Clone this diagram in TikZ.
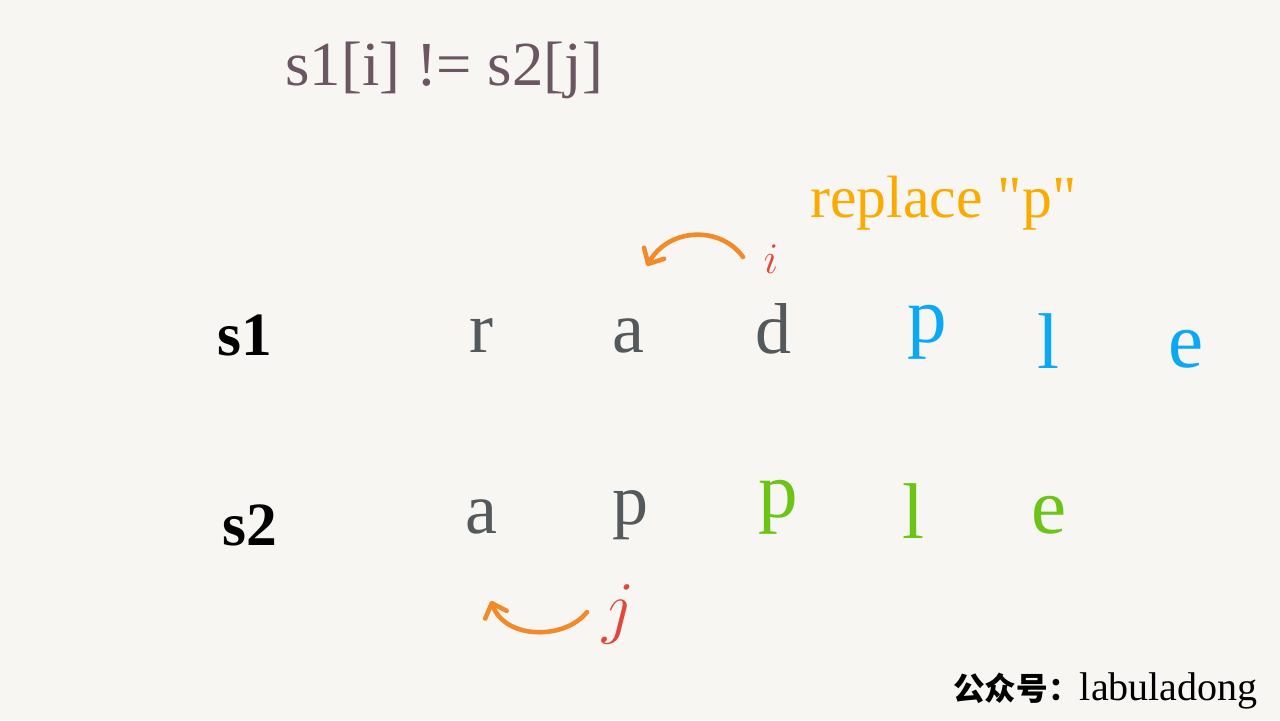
\documentclass[tikz,border=0pt]{standalone}
\usepackage{fontspec}
\setmainfont{Liberation Serif}
\newfontfamily\rawserif{Liberation Serif}
\newfontfamily\cjk{Noto Sans CJK SC}
\usetikzlibrary{arrows.meta}

\definecolor{paper}{HTML}{F7F6F3}
\definecolor{titlegray}{HTML}{6B5761}
\definecolor{chargray}{HTML}{545A5C}
\definecolor{charblue}{HTML}{0AA8F5}
\definecolor{chargreen}{HTML}{6CC417}
\definecolor{textorange}{HTML}{FBAB00}
\definecolor{arroworange}{HTML}{F28A2A}
\definecolor{ptrred}{HTML}{E0483A}

\begin{document}
\begin{tikzpicture}[x=0.02cm, y=-0.02cm,
  char node/.style={anchor=base, inner sep=0pt, text=chargray, font=\fontsize{41}{41}\selectfont},
  blue node/.style={char node, text=charblue, font=\fontsize{45}{45}\selectfont},
  green node/.style={char node, text=chargreen, font=\fontsize{45}{45}\selectfont},
  label node/.style={anchor=base, inner sep=0pt, font=\fontsize{35}{35}\selectfont\bfseries},
  ptr node/.style={anchor=base, inner sep=0pt, text=ptrred, font=\fontsize{24.88}{25}\selectfont},
  move arrow/.style={draw=arroworange, line width=2.6pt, line cap=round,
    -{Straight Barb[length=7pt, width=13pt, round]}}]
  \fill[paper] (0,0) rectangle (1280,720);

  % Titre et remarque
  \node[anchor=base west, inner sep=0pt, text=titlegray, font=\fontsize{35.7}{35.7}\selectfont] (title) at (285,85) {s1[i] != s2[j]};
  \node[anchor=base west, inner sep=0pt, text=textorange, font=\rawserif\fontsize{34}{34}\selectfont] (replace) at (810,217) {replace "p"};

  % Chaine s1
  \node[label node] (s1) at (245,355) {s1};
  \node[char node] (r1) at (481,352) {r};
  \node[char node] (a1) at (628,352) {a};
  \node[char node] (d1) at (773,353) {d};
  \node[blue node] (p1) at (927,342) {p};
  \node[blue node] (l1) at (1048,368) {l};
  \node[blue node] (e1) at (1186,367) {e};

  % Chaine s2
  \node[label node] (s2) at (250,545) {s2};
  \node[char node] (a2) at (481,533) {a};
  \node[char node] (p2) at (630,524) {p};
  \node[green node] (p3) at (778,517) {p};
  \node[green node] (l3) at (913,538) {l};
  \node[green node] (e3) at (1049,533) {e};

  % Pointeurs i et j
  \node[ptr node] (i) at (771,273) {$i$};
  \node[ptr node, scale=1.6] (j) at (619,630) {$j$};
  \coordinate (i from) at (743,257);
  \coordinate (i to) at (647,266);
  \coordinate (j from) at (587,612);
  \coordinate (j to) at (491,601);
  \draw[move arrow] (i from) .. controls (720,225) and (668,228) .. (i to);
  \draw[move arrow] (j from) .. controls (565,640) and (505,640) .. (j to);

  % Signature
  \node[anchor=base west, inner sep=0pt] (sign) at (953,700)
    {{\cjk\bfseries\fontsize{18}{18}\selectfont 公众号：}{\fontsize{22.8}{22.8}\selectfont labuladong}};
\end{tikzpicture}
\end{document}
